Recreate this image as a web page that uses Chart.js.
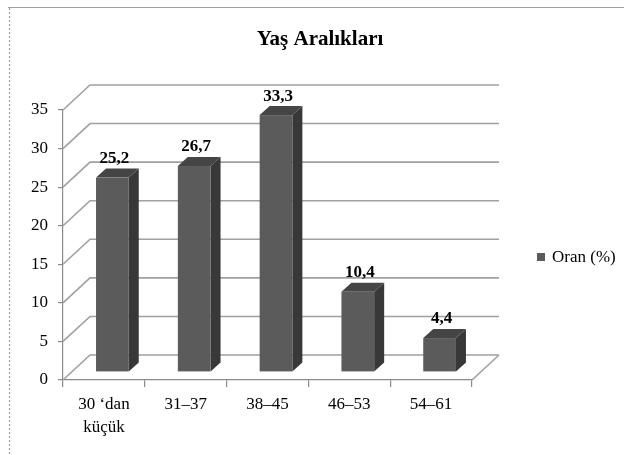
<!DOCTYPE html>
<html>
<head>
<meta charset="utf-8">
<script src="https://cdn.jsdelivr.net/npm/chart.js@4/dist/chart.umd.min.js"></script>
<style>
  html, body { margin: 0; padding: 0; background: #ffffff; }
  #wrap { position: relative; width: 624px; height: 455px; }
</style>
</head>
<body>
<div id="wrap"><canvas id="c"></canvas></div>
<script>
// Age groups and their share (%)
const chartTitle = 'Yaş Aralıkları';
const seriesName = 'Oran (%)';
const categories = [['30 \u2018dan', 'küçük'], '31–37', '38–45', '46–53', '54–61'];
const oran = [25.2, 26.7, 33.3, 10.4, 4.4];
const yTicks = { min: 0, max: 35, step: 5 };

const FONT = '"Liberation Serif", "Times New Roman", serif';
const FRONT = '#5b5b5b', TOP = '#454545', SIDE = '#383838';
const GRID = '#a0a0a0', AXIS = '#8a8a8a';

// 3D projection offsets
const DEPTH = { dx: 27, dy: -25 };     // floor / wall depth
const BAR_PLANE = { dx: 8.5, dy: -8 }; // where bar fronts stand
const BAR_DEPTH = { dx: 10, dy: -9 };  // thickness of each bar

const fmt = v => v.toFixed(1).replace('.', ',');

const box3d = {
  id: 'box3d',
  beforeDatasetsDraw(chart) {
    const { ctx, chartArea: a, scales: { y } } = chart;
    ctx.save();
    // outer frame
    ctx.strokeStyle = '#a0a0a0';
    ctx.lineWidth = 1.2;
    ctx.beginPath(); ctx.moveTo(8, 7.5); ctx.lineTo(624, 7.5); ctx.stroke();
    ctx.setLineDash([2, 2]);
    ctx.beginPath(); ctx.moveTo(9.5, 8); ctx.lineTo(9.5, 455); ctx.stroke();
    ctx.setLineDash([]);

    // title
    ctx.fillStyle = '#000';
    ctx.font = 'bold 21px ' + FONT;
    ctx.textAlign = 'center'; ctx.textBaseline = 'middle';
    ctx.fillText(chartTitle, 320, 40);

    // legend
    ctx.fillStyle = FRONT;
    ctx.fillRect(537, 253, 8, 8);
    ctx.fillStyle = '#000';
    ctx.font = '17px ' + FONT;
    ctx.textAlign = 'left';
    ctx.fillText(seriesName, 552, 258);

    // back wall gridlines + side wall diagonals
    ctx.strokeStyle = GRID;
    ctx.lineWidth = 1.6;
    for (let v = yTicks.min; v <= yTicks.max; v += yTicks.step) {
      const py = y.getPixelForValue(v);
      ctx.beginPath();
      ctx.moveTo(a.left, py);
      ctx.lineTo(a.left + DEPTH.dx, py + DEPTH.dy);
      ctx.lineTo(a.right + DEPTH.dx, py + DEPTH.dy);
      ctx.stroke();
    }
    // floor right edge
    ctx.beginPath();
    ctx.moveTo(a.right, a.bottom);
    ctx.lineTo(a.right + DEPTH.dx, a.bottom + DEPTH.dy);
    ctx.stroke();
    ctx.restore();
  },
  afterDatasetsDraw(chart) {
    const { ctx } = chart;
    const meta = chart.getDatasetMeta(0);
    const data = chart.data.datasets[0].data;
    ctx.save();
    meta.data.forEach((bar, i) => {
      const p = bar.getProps(['x', 'y', 'base', 'width'], true);
      const l = p.x - p.width / 2 + BAR_PLANE.dx;
      const r = p.x + p.width / 2 + BAR_PLANE.dx;
      const t = p.y + BAR_PLANE.dy;
      const b = p.base + BAR_PLANE.dy;
      const dx = BAR_DEPTH.dx, dy = BAR_DEPTH.dy;
      // side face
      ctx.fillStyle = SIDE;
      ctx.beginPath();
      ctx.moveTo(r, t); ctx.lineTo(r + dx, t + dy);
      ctx.lineTo(r + dx, b + dy); ctx.lineTo(r, b);
      ctx.closePath(); ctx.fill();
      // top face
      ctx.fillStyle = TOP;
      ctx.beginPath();
      ctx.moveTo(l, t); ctx.lineTo(l + dx, t + dy);
      ctx.lineTo(r + dx, t + dy); ctx.lineTo(r, t);
      ctx.closePath(); ctx.fill();
      // front face
      ctx.fillStyle = FRONT;
      ctx.fillRect(l, t, r - l, b - t);
      // value label
      ctx.fillStyle = '#000';
      ctx.font = 'bold 17px ' + FONT;
      ctx.textAlign = 'center'; ctx.textBaseline = 'middle';
      ctx.fillText(fmt(data[i]), (l + r) / 2 + 2, t + dy - 10);
    });
    ctx.restore();
  }
};

new Chart(document.getElementById('c'), {
  type: 'bar',
  data: {
    labels: categories,
    datasets: [{
      label: seriesName,
      data: oran,
      backgroundColor: 'rgba(0,0,0,0)',
      borderWidth: 0,
      categoryPercentage: 1,
      barPercentage: 0.4
    }]
  },
  options: {
    responsive: true,
    maintainAspectRatio: false,
    animation: false,
    layout: { padding: { top: 110, right: 152, left: 0, bottom: 0 } },
    plugins: {
      legend: { display: false },
      title: { display: false },
      tooltip: { enabled: false }
    },
    scales: {
      x: {
        afterFit: s => { s.height = 75; },
        grid: { offset: true, drawOnChartArea: false, tickLength: 7, color: AXIS, lineWidth: 1.2 },
        border: { color: AXIS, width: 1.2 },
        ticks: { color: '#000', padding: 6, maxRotation: 0, autoSkip: false,
                 font: { family: FONT, size: 17, lineHeight: 1.35 } }
      },
      y: {
        min: yTicks.min, max: yTicks.max,
        afterFit: s => { s.width = 63; },
        grid: { drawOnChartArea: false, tickLength: 5, color: AXIS, lineWidth: 1.2 },
        border: { color: AXIS, width: 1.2 },
        ticks: { stepSize: yTicks.step, color: '#000', padding: 10,
                 font: { family: FONT, size: 17 } }
      }
    }
  },
  plugins: [box3d]
});
</script>
</body>
</html>
